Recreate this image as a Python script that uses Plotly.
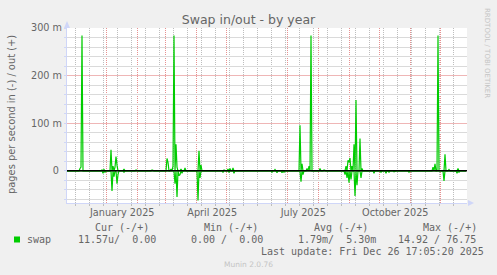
import plotly.graph_objects as go
import pandas as pd

# ---------------- data (values in milli pages/s) ----------------
out_dates = ["2024-12-05", "2024-12-06", "2024-12-07", "2024-12-27", "2024-12-29",
             "2025-01-05", "2025-01-07", "2025-01-09", "2025-01-10", "2025-01-11", "2025-01-18",
             "2025-01-30", "2025-02-15",
             "2025-03-02", "2025-03-03", "2025-03-06", "2025-03-08", "2025-03-09", "2025-03-11",
             "2025-03-12", "2025-03-16", "2025-03-20",
             "2025-04-03", "2025-04-05", "2025-04-28", "2025-05-02", "2025-05-04", "2025-05-07",
             "2025-06-18",
             "2025-07-13", "2025-07-15", "2025-07-20", "2025-07-22", "2025-07-24",
             "2025-08-02", "2025-08-06",
             "2025-08-28", "2025-08-30", "2025-08-31", "2025-09-01", "2025-09-03", "2025-09-05",
             "2025-09-07", "2025-09-11", "2025-09-13",
             "2025-11-23", "2025-11-25", "2025-11-28", "2025-12-05", "2025-12-09", "2025-12-18"]
out_vals = [5, 8, 284, 2, 3,
            44, 10, 8, 30, 12, 4,
            2, 2,
            26, 18, 4, 10, 284, 56,
            8, 4, 6,
            42, 12, 2, 4, 5, 6,
            3,
            96, 15, 5, 10, 284,
            5, 2,
            10, 22, 18, 27, 10, 56,
            149, 68, 5,
            8, 15, 284, 35, 3, 5]

in_dates = ["2024-12-28", "2024-12-30",
            "2025-01-06", "2025-01-08", "2025-01-11", "2025-01-12", "2025-01-18",
            "2025-03-10", "2025-03-12", "2025-03-14", "2025-03-15", "2025-03-17",
            "2025-04-02", "2025-04-04", "2025-04-27", "2025-05-03", "2025-05-08",
            "2025-06-15", "2025-06-20", "2025-06-25", "2025-06-27",
            "2025-07-14", "2025-07-16",
            "2025-08-27", "2025-08-29", "2025-08-31", "2025-09-02", "2025-09-06", "2025-09-08",
            "2025-09-12",
            "2025-09-25", "2025-10-02", "2025-10-07", "2025-10-10", "2025-10-15", "2025-10-30",
            "2025-12-04", "2025-12-17", "2025-12-19"]
in_vals = [5, 3,
           42, 12, 27, 8, 3,
           27, 55, 10, 8, 5,
           62, 15, 3, 3, 5,
           3, 4, 4, 3,
           23, 8,
           8, 15, 25, 18, 53, 30,
           15,
           5, 3, 5, 3, 2, 3,
           21, 5, 3]

y_major = [0, 100, 200, 300]
y_major_text = ["0\u00a0", "100 m", "200 m", "300 m"]
y_minor = [-60, -40, -20, 20, 40, 60, 80, 120, 140, 160, 180, 220, 240, 260, 280]
x_label_dates = ["2025-01-16 18:00", "2025-04-16 18:00", "2025-07-16 18:00", "2025-10-16 18:00"]
x_label_text = ["January 2025", "April 2025", "July 2025", "October 2025"]
month_starts = [d.strftime("%Y-%m-%d") for d in pd.date_range("2024-12-01", "2025-12-01", freq="MS")]
biweekly = [d.strftime("%Y-%m-%d") for d in pd.date_range("2024-12-01", "2025-12-27", freq="14D")]

legend_headers = ["Cur (-/+)", "Min (-/+)", "Avg (-/+)", "Max (-/+)"]
legend_values = ["11.57u/  0.00", "0.00 /  0.00", "1.79m/  5.30m", "14.92 / 76.75"]
last_update = "Last update: Fri Dec 26 17:05:20 2025"

# ---------------- build daily series ----------------
days = pd.date_range("2024-11-22", "2025-12-26", freq="D")
out_s = pd.Series(0.0, index=days)
in_s = pd.Series(0.0, index=days)
for d, v in zip(out_dates, out_vals):
    out_s[pd.Timestamp(d)] = v
for d, v in zip(in_dates, in_vals):
    in_s[pd.Timestamp(d)] = -v
xs = [(d + pd.Timedelta(hours=12)).strftime("%Y-%m-%d %H:%M") for d in days]

# 400 days over 400 px; midnight lands on pixel centres
X0, X1 = "2024-11-22 12:00", "2025-12-27 12:00"
L, R, T, B = 67, 30, 28, 72
W, H = 497, 275
PW, PH = W - L - R, H - T - B

def px(x):
    return (x - L) / PW

def py(y):
    return (H - B - y) / PH

FONT = "DejaVu Sans"
MONO = "DejaVu Sans Mono"
TXT = "#666666"
AXIS = "#cfd6f8"
GREEN = "#00cc00"
MGRID = "#e69090"
GRID = "#bdbdbd"
MGRID_H = "#efb6b6"
GRID_H = "#dadada"

fig = go.Figure()
fig.add_trace(go.Scatter(x=xs, y=list(out_s.values), mode="lines", line=dict(color=GREEN, width=1.2),
                         showlegend=False, hoverinfo="skip"))
fig.add_trace(go.Scatter(x=xs, y=list(in_s.values), mode="lines", line=dict(color=GREEN, width=1.2),
                         showlegend=False, hoverinfo="skip"))

fig.update_layout(
    width=W, height=H, margin=dict(l=L, r=R, t=T, b=B, pad=0),
    paper_bgcolor="#f0f0f0", plot_bgcolor="#ffffff",
    font=dict(family=FONT, size=9.7, color=TXT),
    title=dict(text="Swap in/out - by year", x=0.5, xanchor="center", xref="container",
               y=1 - 19.5 / H, yanchor="middle", font=dict(family=FONT, size=12.5, color=TXT)),
    xaxis=dict(type="date", range=[X0, X1], tickmode="array", tickvals=x_label_dates,
               ticktext=x_label_text, showgrid=False, ticks="",
               tickfont=dict(family=FONT, size=9.7, color=TXT),
               showline=True, linecolor=AXIS, linewidth=1, zeroline=False,
               minor=dict(tickmode="array", tickvals=biweekly, showgrid=True, gridcolor=GRID,
                          griddash="1px,1px", gridwidth=1, ticks="outside", ticklen=2,
                          tickcolor=GRID)),
    yaxis=dict(range=[-67.5, 300], tickmode="array", tickvals=y_major, ticktext=y_major_text,
               showgrid=True, gridcolor=MGRID_H, gridwidth=1,
               ticks="outside", ticklen=2, tickcolor=AXIS, zeroline=False,
               showline=True, linecolor=AXIS, linewidth=1,
               tickfont=dict(family=FONT, size=9.7, color=TXT),
               minor=dict(tickmode="array", tickvals=y_minor, showgrid=True, gridcolor=GRID_H,
                          gridwidth=1, ticks="outside", ticklen=2, tickcolor=AXIS)),
)

shapes = []
for m in month_starts:
    shapes.append(dict(type="line", xref="x", yref="paper", x0=m, x1=m, y0=0, y1=1,
                       line=dict(color=MGRID, width=1, dash="1px,1px"), layer="below"))
shapes += [
    dict(type="line", xref="x", yref="y", x0=X0, x1=X1, y0=0, y1=0,
         line=dict(color="#000000", width=1.5), layer="above"),
    dict(type="path", xref="paper", yref="paper",
         path=f"M {px(67)},{py(21)} L {px(64)},{py(28)} L {px(70)},{py(28)} Z",
         fillcolor=AXIS, line=dict(width=0)),
    dict(type="path", xref="paper", yref="paper",
         path=f"M {px(474)},{py(203)} L {px(468)},{py(200)} L {px(468)},{py(206)} Z",
         fillcolor=AXIS, line=dict(width=0)),
    dict(type="rect", xref="paper", yref="paper", x0=px(14), x1=px(20), y0=py(242.5), y1=py(236.5),
         fillcolor=GREEN, line=dict(width=0)),
]
fig.update_layout(shapes=shapes)

ann = []
def add_text(text, x, y, size=10, fam=MONO, color=TXT, xanchor="left", angle=0):
    ann.append(dict(text=text.replace(" ", "\u00a0"), xref="paper", yref="paper",
                    x=px(x), y=py(y), xanchor=xanchor, yanchor="middle", showarrow=False,
                    borderpad=0, textangle=angle, font=dict(family=fam, size=size, color=color)))

add_text("pages per second in (-) / out (+)", 11, 115, size=9.9, fam=FONT, xanchor="center", angle=-90)
add_text("RRDTOOL / TOBI OETIKER", 487, 53, size=7, fam=FONT, color="#c4c4c4", xanchor="center", angle=90)
for h, xx in zip(legend_headers, [93.7, 202.7, 313, 422.4]):
    add_text(h, xx, 227.7)
add_text("swap", 26, 239.3)
for v, xx in zip(legend_values, [76.7, 190, 296.6, 397.2]):
    add_text(v, xx, 239.3)
add_text(last_update, 260, 251.7)
add_text("Munin 2.0.76", 248.5, 264.3, size=7.5, fam=FONT, color="#c4c4c4", xanchor="center")
fig.update_layout(annotations=ann)

fig.write_html("out.html")
